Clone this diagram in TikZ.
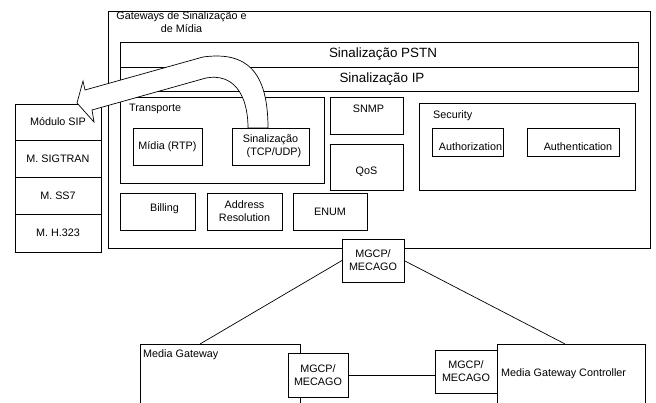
\documentclass[tikz,border=0pt]{standalone}
\usepackage{fontspec}
\setmainfont{Liberation Sans}
\usetikzlibrary{positioning, calc}
\newcommand{\normtext}{\fontsize{10.8}{13}\selectfont}
\newcommand{\bigtext}{\fontsize{13.4}{16}\selectfont}
% move a one-line label inside its box without changing the box
\newcommand{\nudge}[3]{\raisebox{#2}[\height][\depth]{\rlap{\hspace*{#1}#3}\phantom{#3}}}
\tikzset{
  box/.style={rectangle, draw=black, fill=white, line width=0.7pt,
    inner sep=1pt, outer sep=0pt, align=center, font=\normtext},
  sz/.style 2 args={minimum width=#1pt, minimum height=#2pt},
  tag/.style={anchor=west, inner sep=0pt, font=\normtext},
  link/.style={line width=0.7pt, color=black},
  hollow/.style={draw=black, fill=white, line width=0.7pt, line join=miter}
}
\begin{document}
\begin{tikzpicture}[x=1pt, y=-1pt]
  \useasboundingbox (0,0) rectangle (656,403);

  % Gateway frame
  \node[box, sz={542}{237}, anchor=north west] (gw) at (108,11) {};
  \node[font=\normtext, align=center, anchor=north, inner sep=0pt] (gwtitle) at (181.5,11) {Gateways de Sinalização e\\de Mídia};

  % Signalling bands
  \node[box, font=\bigtext, sz={518}{25}, anchor=north west] (pstn) at (120,42) {\nudge{4pt}{0pt}{Sinalização PSTN}};
  \node[box, font=\bigtext, sz={518}{24}, below=0pt of pstn] (ip) {\nudge{3pt}{0pt}{Sinalização IP}};

  % Transport
  \node[box, sz={204}{86}, anchor=north west] (transp) at (120,97) {};
  \node[tag] (transplbl) at (129,109) {Transporte};
  \node[box, sz={69}{37}, anchor=north west] (midia) at (133,128) {Mídia (RTP)};
  \node[box, sz={77}{37}, anchor=north west] (sinal) at (232,128) {Sinalização\\\hspace*{7pt}(TCP/UDP)};

  \node[box, sz={73}{37}, anchor=north west] (snmp) at (330,97) {\nudge{2pt}{7pt}{SNMP}};
  \node[box, sz={73}{46}, anchor=north west] (qos) at (330,144) {\nudge{0pt}{-5pt}{QoS}};

  % Security
  \node[box, sz={216}{87}, anchor=north west] (sec) at (419,103) {};
  \node[tag] (seclbl) at (433,116) {Security};
  \node[box, sz={71}{28}, anchor=north west] (authz) at (432,128) {\nudge{3pt}{-5pt}{Authorization}};
  \node[box, sz={92}{28}, anchor=north west] (authn) at (527,128) {\nudge{5pt}{-5pt}{Authentication}};

  \node[box, sz={75}{37}, anchor=north west] (billing) at (120,193) {\nudge{7pt}{3pt}{Billing}};
  \node[box, sz={75}{37}, anchor=north west] (addr) at (207,193) {Address\\Resolution};
  \node[box, sz={74}{37}, anchor=north west] (enum) at (293,193) {ENUM};

  % Protocol modules
  \node[box, sz={86}{36}, anchor=north west] (sip) at (15,104) {Módulo SIP};
  \node[box, sz={86}{37}, below=0pt of sip] (sigtran) {M. SIGTRAN};
  \node[box, sz={86}{37}, below=0pt of sigtran] (ss7) {M. SS7};
  \node[box, sz={86}{38}, below=0pt of ss7] (h323) {M. H.323};

  % Media gateway and controller
  \node[box, sz={62}{43}, anchor=north west] (mgcptop) at (342,239) {MGCP/\\MECAGO};
  \node[box, sz={160}{70}, anchor=north west] (mg) at (140,344) {};
  \node[tag] (mglbl) at (143,355) {Media Gateway};
  \node[box, sz={148}{70}, anchor=north west] (mgc) at (497,344) {};
  \node[tag] (mgclbl) at (501,374) {Media Gateway Controller};
  \node[box, sz={60}{44}, anchor=north west] (mgcpmg) at (288,353) {MGCP/\\MECAGO};
  \node[box, sz={62}{43}, anchor=north west] (mgcpmgc) at (435,350) {MGCP/\\MECAGO};

  \draw[link] (mgcptop.west) -- ($(mg.north west)!.375!(mg.north east)$);
  \draw[link] (mgcptop.east) -- ($(mgc.north west)!.46!(mgc.north east)$);
  \draw[link] (mgcpmg.east) -- (mgcpmg.east -| mgcpmgc.west);

  % Hollow arrow to the SIP module
  \draw[hollow] ([xshift=-2.5pt]sinal.north) .. controls (268,72) and (247,51) .. (203,57)
    -- (85,90) -- (83,81) -- (77,103) -- (94,122) -- (92,110) -- (206,78)
    .. controls (233,73) and (248,94) .. ([xshift=-22.5pt]sinal.north) -- cycle;
\end{tikzpicture}
\end{document}
